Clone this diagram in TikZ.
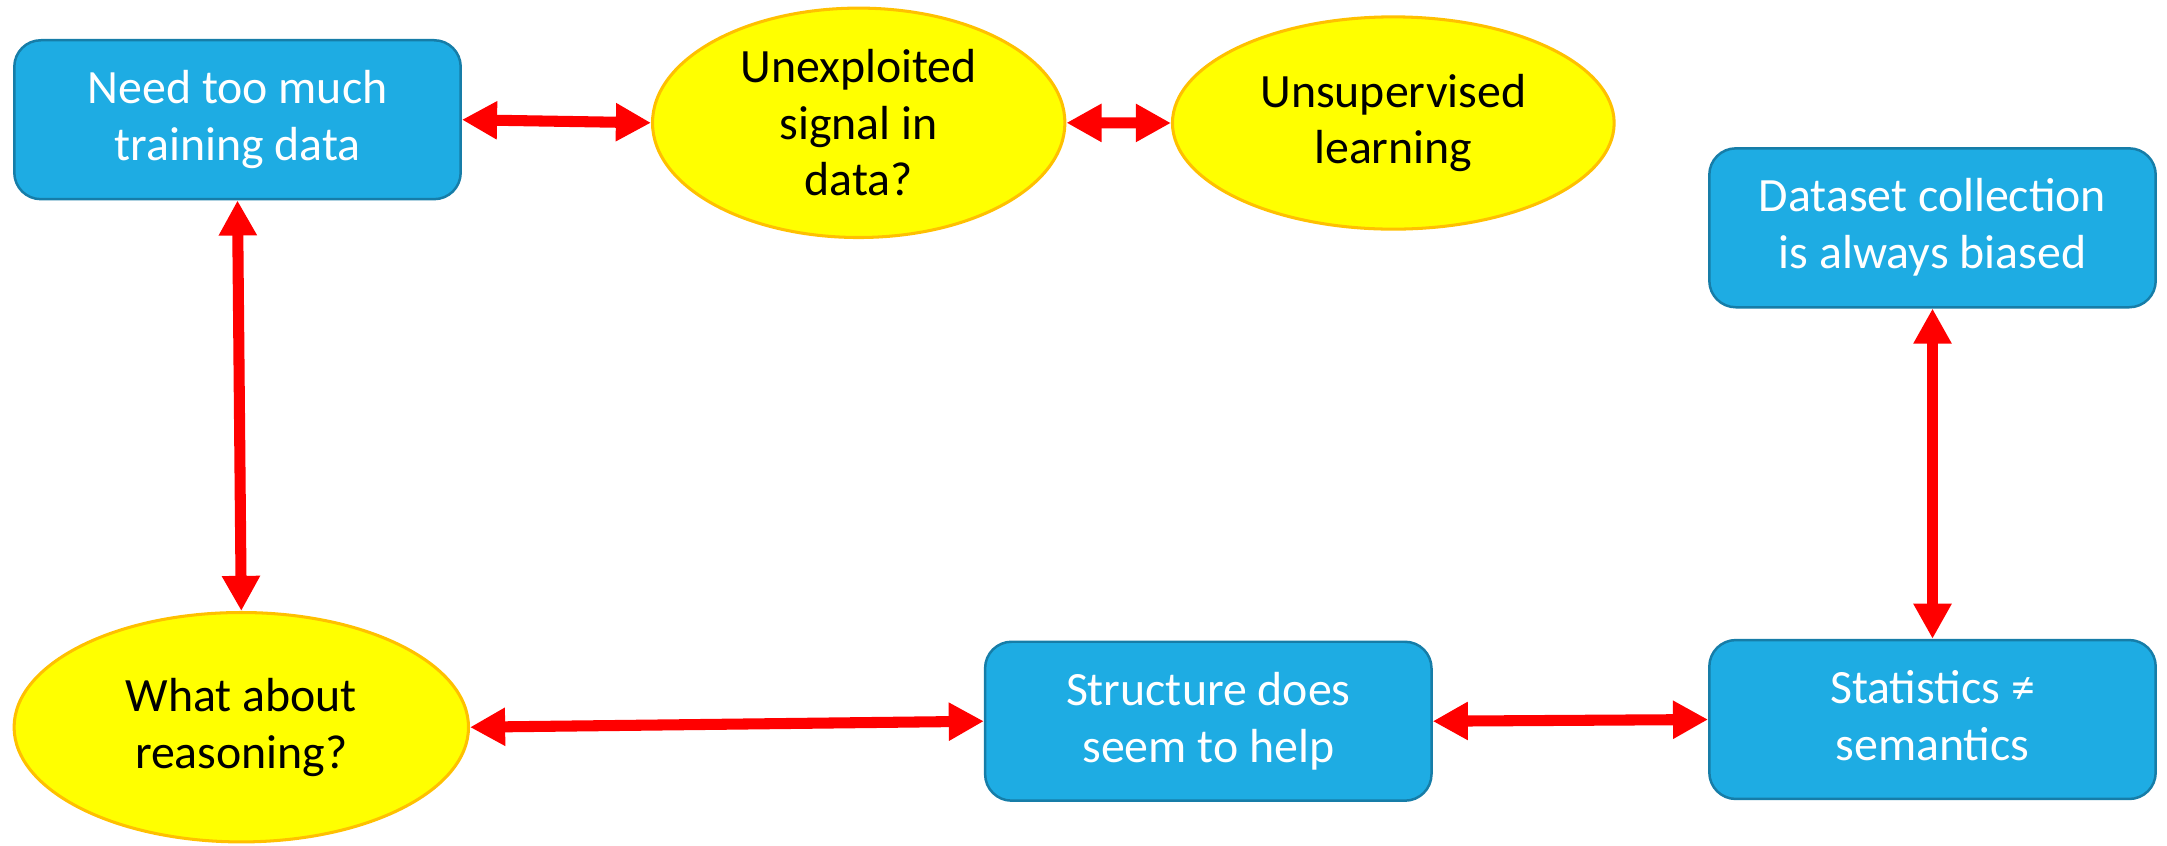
\documentclass[tikz,border=0pt]{standalone}
\usepackage{fontspec}
\setmainfont{Carlito}
\usetikzlibrary{arrows.meta,shapes.geometric}
\definecolor{boxblue}{RGB}{30,172,227}
\definecolor{boxedge}{RGB}{22,125,168}
\definecolor{ellyellow}{RGB}{255,255,0}
\definecolor{elledge}{RGB}{255,192,0}
\definecolor{arrred}{RGB}{255,0,0}
\newcommand\lowerby{\rule[-3pt]{0pt}{0pt}}
\begin{document}
\begin{tikzpicture}[x=0.36178pt,y=-0.36178pt,
  every node/.style={font=\fontsize{17.3}{20.5}\selectfont, align=center},
  bluebox/.style={draw=boxedge, fill=boxblue, line width=0.9pt, rounded corners=9.6pt,
    text=white, minimum width=161.5pt, minimum height=57.5pt, inner sep=0pt},
  yellowell/.style={ellipse, draw=elledge, fill=ellyellow, line width=1.1pt, text=black, inner sep=0pt},
  link/.style={draw=arrred, line width=4pt, {Triangle[width=13pt,length=12.7pt]}-{Triangle[width=13pt,length=12.7pt]}}
]
\useasboundingbox (0,0) rectangle (2167,845);
\node[bluebox] (A) at (237.5,119.7) {Need too much\\training data\lowerby};
\node[yellowell, minimum width=149.2pt, minimum height=83pt] (B) at (858.7,122.8) {Unexploited\\signal in\\data?};
\node[yellowell, minimum width=159.8pt, minimum height=76.8pt] (C) at (1393.3,123) {Unsupervised\\learning\lowerby};
\node[bluebox] (D) at (1932.5,227.8) {Dataset collection\\is always biased\lowerby};
\node[yellowell, minimum width=164.4pt, minimum height=83pt] (E) at (241.3,727.2) {What about\\reasoning?\lowerby};
\node[bluebox] (F) at (1208.3,721.2) {Structure does\\seem to help\lowerby};
\node[bluebox] (G) at (1932.5,719.5) {Statistics ≠\\semantics\lowerby};
\draw[link] (A.east) -- (B.west);
\draw[link] (B.east) -- (C.west);
\draw[link] (A.south) -- (E.north);
\draw[link] (E.east) -- (F.west);
\draw[link] (F.east) -- (G.west);
\draw[link] (D.south) -- (G.north);
\end{tikzpicture}
\end{document}
